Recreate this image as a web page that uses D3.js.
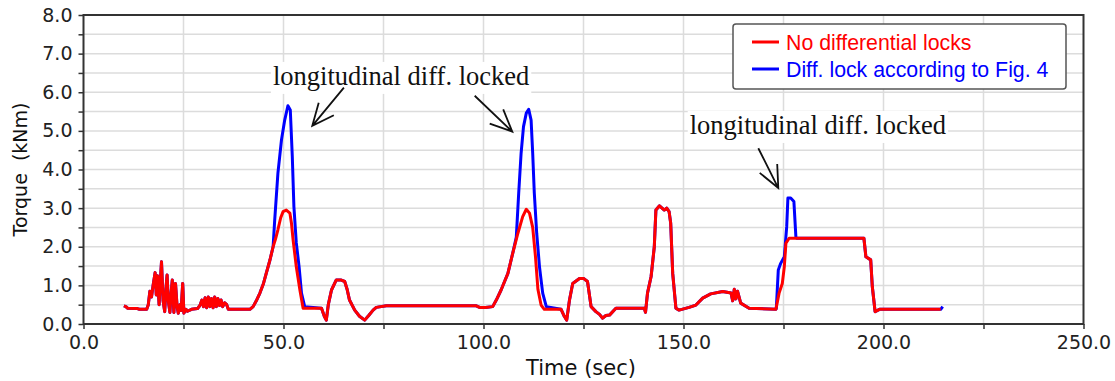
<!DOCTYPE html>
<html>
<head>
<meta charset="utf-8">
<script src="https://cdn.jsdelivr.net/npm/d3@7/dist/d3.min.js"></script>
<style>
  html, body { margin: 0; padding: 0; background: #fff; }
  svg { display: block; }
  .tick text { font-family: "DejaVu Sans", sans-serif; font-size: 19px; fill: #222; }
  .tick line { stroke: #333; stroke-width: 1.5; }
  .domain { display: none; }
</style>
</head>
<body>
<div id="chart"></div>
<script>
// ---- data ----
const seriesNames = ["No differential locks", "Diff. lock according to Fig. 4"];
const seriesColors = ["#ff0000", "#0000ff"];

// time (sec), torque (kNm) -- no differential locks
const noLockData = [
  [10.1,0.47],[10.6,0.45],[11.0,0.41],[13.5,0.40],[14.0,0.38],[15.8,0.38],[16.2,0.5],[16.6,0.85],
  [17.0,0.7],[17.4,1.0],[17.9,1.33],[18.2,0.75],[18.5,1.25],[18.9,0.5],[19.2,1.1],[19.5,1.61],
  [19.9,0.6],[20.3,0.32],[20.6,0.9],[20.9,1.27],[21.2,0.6],[21.6,0.3],[21.9,0.8],[22.2,1.14],
  [22.6,0.3],[23.0,1.05],[23.4,0.45],[23.7,0.28],[24.1,0.5],[24.4,0.35],[24.8,1.05],[25.1,0.28],
  [25.6,0.38],[26.0,0.33],[27.0,0.38],[28.5,0.40],[29.1,0.48],[29.6,0.62],[30.0,0.45],[30.4,0.68],
  [30.8,0.42],[31.2,0.7],[31.6,0.45],[32.0,0.66],[32.4,0.42],[32.8,0.7],[33.2,0.45],[33.6,0.66],
  [34.0,0.48],[34.4,0.62],[34.8,0.45],[35.3,0.55],[35.8,0.5],[36.2,0.38],[41.6,0.38],[42.4,0.45],
  [43.2,0.6],[44.1,0.8],[45.0,1.05],[45.7,1.32],[46.6,1.65],[47.4,2.0],[48.0,2.2],[48.6,2.44],
  [49.3,2.75],[49.9,2.91],[50.7,2.95],[51.6,2.87],[52.0,2.6],[52.4,2.18],[53.2,1.48],[54.1,0.88],
  [54.9,0.41],[59.5,0.41],[60.2,0.2],[60.7,0.1],[61.2,0.5],[62.0,0.88],[63.2,1.14],[64.3,1.14],
  [65.3,1.1],[65.9,0.9],[66.5,0.62],[67.8,0.36],[69.0,0.2],[70.3,0.1],[71.3,0.22],[72.4,0.36],
  [73.2,0.43],[75.7,0.47],[98.2,0.47],[99.0,0.43],[100.5,0.43],[102.3,0.45],[103.2,0.62],[104.4,0.88],
  [106.1,1.31],[107.3,1.83],[108.6,2.35],[109.8,2.78],[110.7,2.97],[111.5,2.87],[112.3,2.5],[113.0,1.74],
  [113.6,0.9],[114.4,0.49],[115.2,0.38],[119.4,0.38],[120.2,0.2],[120.8,0.1],[121.5,0.62],[122.3,1.05],
  [124.0,1.18],[125.0,1.18],[126.0,1.1],[126.9,0.45],[128.1,0.32],[129.0,0.25],[129.8,0.15],[130.6,0.22],
  [131.5,0.23],[133.1,0.41],[140.2,0.41],[140.5,0.3],[141.0,0.8],[141.9,1.23],[142.7,2.0],[143.1,2.95],
  [144.0,3.06],[145.2,2.95],[145.8,3.0],[146.4,2.91],[146.8,2.61],[147.3,1.31],[148.1,0.41],[148.9,0.36],
  [151.4,0.43],[153.1,0.49],[154.8,0.67],[156.8,0.78],[159.8,0.84],[161.9,0.8],[162.3,0.6],[162.7,0.9],
  [163.1,0.65],[163.5,0.85],[164.3,0.54],[166.4,0.41],[173.1,0.38],[173.9,0.8],[174.7,1.05],[175.2,1.48],
  [175.6,2.09],[176.4,2.22],[195.1,2.22],[195.6,1.74],[196.8,1.66],[197.2,0.97],[197.9,0.32],[199.0,0.38],
  [214.3,0.38]
];

// where the diff. lock run differs from the run without locks
const lockPeak1 = [[47.4,2.0],[47.8,2.69],[48.6,3.9],[49.5,4.77],[50.3,5.28],[51.1,5.65],[51.7,5.54],
  [52.2,4.33],[52.6,3.04],[53.2,2.1],[53.9,1.48],[54.5,0.8],[55.3,0.45]];
const lockPeak2 = [[108.2,2.25],[108.8,3.39],[109.4,4.42],[110.0,5.11],[110.7,5.46],[111.3,5.56],[111.9,5.28],
  [112.3,4.42],[112.7,3.39],[113.3,2.35],[114.0,1.48],[114.8,0.8],[115.7,0.45]];
const lockPeak3 = [[173.2,0.4],[173.7,1.4],[174.3,1.57],[175.2,1.74],[175.8,2.52],[176.1,3.26],[176.8,3.26],
  [177.6,3.17],[178.1,2.25],[178.3,2.22]];
const lockEnd = [[214.8,0.45]];

const xMajorTicks = [0, 50, 100, 150, 200, 250];
const xMinorTicks = [0, 25, 50, 75, 100, 125, 150, 175, 200, 225, 250];
const yMajorTicks = [0, 1, 2, 3, 4, 5, 6, 7, 8];
const yMinorTicks = [0, 0.5, 1, 1.5, 2, 2.5, 3, 3.5, 4, 4.5, 5, 5.5, 6, 6.5, 7, 7.5, 8];

const annotationText = "longitudinal diff. locked";
// label centre (t, v), arrow tail and tip in data units
const annotations = [
  {label: [79.4, 6.19], arrows: [{from: [65.1, 6.12], to: [57.2, 5.13]}, {from: [97.8, 5.91], to: [107.2, 4.98]}]},
  {label: [183.6, 4.92], arrows: [{from: [168.7, 4.55], to: [173.7, 3.52]}]}
];

// build the locked series from the no-lock run plus its differing windows
const lockWindows = [lockPeak1, lockPeak2, lockPeak3];
const lockData = noLockData
  .filter(p => !lockWindows.some(w => p[0] > w[0][0] - 1e-9 && p[0] < w[w.length - 1][0] + 1e-9))
  .concat(lockPeak1, lockPeak2, lockPeak3, lockEnd)
  .sort((a, b) => a[0] - b[0]);

// ---- chart ----
const W = 1115, H = 381;
const x = d3.scaleLinear().domain([0, 250]).range([83.5, 1083.5]);
const y = d3.scaleLinear().domain([0, 8]).range([324, 15]);

const svg = d3.select("#chart").append("svg")
  .attr("width", W).attr("height", H);

// grid
svg.append("g").selectAll("line")
  .data(yMinorTicks.slice(1, -1))
  .enter().append("line")
  .attr("x1", x(0)).attr("x2", x(250))
  .attr("y1", d => y(d)).attr("y2", d => y(d))
  .attr("stroke", "#dcdcdc").attr("stroke-width", 1.5);
svg.append("g").selectAll("line")
  .data(xMinorTicks.slice(1, -1))
  .enter().append("line")
  .attr("y1", y(0)).attr("y2", y(8))
  .attr("x1", d => x(d)).attr("x2", d => x(d))
  .attr("stroke", "#dcdcdc").attr("stroke-width", 1.5);

// annotation backgrounds + text (behind the curves)
const annG = svg.append("g");
annotations.forEach(a => {
  const t = annG.append("text")
    .attr("x", x(a.label[0])).attr("y", y(a.label[1]))
    .attr("text-anchor", "middle")
    .style("font-family", "'Liberation Serif', 'Times New Roman', serif")
    .style("font-size", "26.5px")
    .attr("fill", "#111")
    .text(annotationText);
  const bb = t.node().getBBox();
  annG.insert("rect", "text")
    .attr("x", bb.x - 2).attr("y", bb.y + 1)
    .attr("width", bb.width + 4).attr("height", bb.height + 2)
    .attr("fill", "#fff");
});

// curves
const line = d3.line().x(d => x(d[0])).y(d => y(d[1]));
svg.append("path").datum(lockData)
  .attr("fill", "none").attr("stroke", seriesColors[1]).attr("stroke-width", 3)
  .attr("stroke-linejoin", "round").attr("d", line);
svg.append("path").datum(noLockData)
  .attr("fill", "none").attr("stroke", seriesColors[0]).attr("stroke-width", 3)
  .attr("stroke-linejoin", "round").attr("d", line);

// arrows
function arrowPath(a) {
  const x0 = x(a.from[0]), y0 = y(a.from[1]), x1 = x(a.to[0]), y1 = y(a.to[1]);
  const ang = Math.atan2(y0 - y1, x0 - x1);
  const len = 24, spread = 0.42;
  const hx1 = x1 + len * Math.cos(ang - spread), hy1 = y1 + len * Math.sin(ang - spread);
  const hx2 = x1 + len * Math.cos(ang + spread), hy2 = y1 + len * Math.sin(ang + spread);
  return `M${x0},${y0}L${x1},${y1}M${hx1},${hy1}L${x1},${y1}L${hx2},${hy2}`;
}
annotations.forEach(a => a.arrows.forEach(ar => {
  svg.append("path").attr("d", arrowPath(ar))
    .attr("fill", "none").attr("stroke", "#111").attr("stroke-width", 1.8);
}));

// frame
svg.append("rect")
  .attr("x", x(0)).attr("y", y(8))
  .attr("width", x(250) - x(0)).attr("height", y(0) - y(8))
  .attr("fill", "none").attr("stroke", "#333").attr("stroke-width", 2);

// axes
svg.append("g")
  .attr("transform", `translate(${x(0)},0)`)
  .call(d3.axisLeft(y).tickValues(yMinorTicks).tickSize(5).tickPadding(6)
    .tickFormat(d => yMajorTicks.includes(d) ? d.toFixed(1) : ""));
svg.append("g")
  .attr("transform", `translate(0,${y(0)})`)
  .call(d3.axisBottom(x).tickValues(xMinorTicks).tickSize(5).tickPadding(7)
    .tickFormat(d => xMajorTicks.includes(d) ? d.toFixed(1) : ""));

// axis titles
svg.append("text")
  .attr("transform", `translate(27,${(y(0) + y(8)) / 2}) rotate(-90)`)
  .attr("text-anchor", "middle")
  .style("font-family", "'DejaVu Sans', sans-serif").style("font-size", "19px")
  .style("white-space", "pre").attr("fill", "#111")
  .text("Torque  (kNm)");
svg.append("text")
  .attr("x", 581).attr("y", 375)
  .attr("text-anchor", "middle")
  .style("font-family", "'DejaVu Sans', sans-serif").style("font-size", "21px")
  .attr("fill", "#111")
  .text("Time (sec)");

// legend
const lg = svg.append("g");
lg.append("rect")
  .attr("x", 733).attr("y", 24).attr("width", 333).attr("height", 65)
  .attr("rx", 3).attr("fill", "#fff").attr("stroke", "#555").attr("stroke-width", 1.5);
seriesNames.forEach((name, i) => {
  const ly = 42 + i * 27;
  lg.append("line").attr("x1", 752).attr("x2", 779).attr("y1", ly).attr("y2", ly)
    .attr("stroke", seriesColors[i]).attr("stroke-width", 3);
  lg.append("text").attr("x", 786).attr("y", ly + 7.5)
    .style("font-family", "'Liberation Sans', Arial, sans-serif").style("font-size", "21.3px")
    .attr("fill", seriesColors[i]).text(name);
});
</script>
</body>
</html>
